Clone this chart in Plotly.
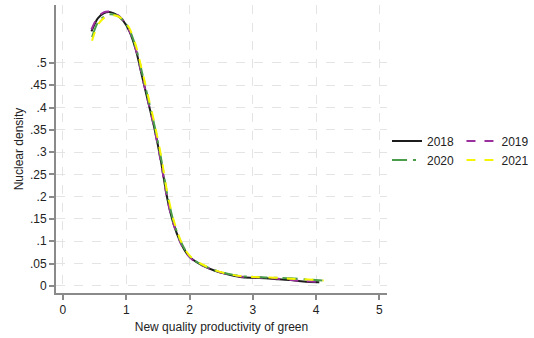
import plotly.graph_objects as go

# ---- data ----
x_2018 = [0.45, 0.55, 0.65, 0.75, 0.85, 0.95, 1.05, 1.15, 1.25, 1.35, 1.45, 1.55, 1.65, 1.75, 1.85, 1.95, 2.05, 2.2, 2.4, 2.6, 2.8, 3.0, 3.2, 3.4, 3.6, 3.8, 4.05]
y_2018 = [0.571, 0.600, 0.612, 0.614, 0.608, 0.595, 0.571, 0.530, 0.470, 0.410, 0.350, 0.278, 0.195, 0.138, 0.100, 0.074, 0.059, 0.046, 0.034, 0.026, 0.020, 0.018, 0.017, 0.015, 0.013, 0.010, 0.008]

x_2019 = [0.45, 0.55, 0.65, 0.75, 0.85, 0.95, 1.05, 1.15, 1.25, 1.35, 1.45, 1.55, 1.65, 1.75, 1.85, 1.95, 2.05, 2.2, 2.4, 2.6, 2.8, 3.0, 3.2, 3.4, 3.6, 3.8, 4.05]
y_2019 = [0.575, 0.603, 0.614, 0.615, 0.609, 0.596, 0.572, 0.531, 0.471, 0.411, 0.349, 0.276, 0.193, 0.137, 0.099, 0.073, 0.058, 0.046, 0.034, 0.026, 0.021, 0.019, 0.018, 0.016, 0.013, 0.011, 0.009]

x_2020 = [0.46, 0.55, 0.65, 0.75, 0.85, 0.95, 1.05, 1.15, 1.25, 1.35, 1.45, 1.55, 1.65, 1.75, 1.85, 1.95, 2.05, 2.2, 2.4, 2.6, 2.8, 3.0, 3.2, 3.4, 3.6, 3.8, 4.1]
y_2020 = [0.558, 0.590, 0.604, 0.609, 0.606, 0.596, 0.575, 0.536, 0.478, 0.418, 0.357, 0.286, 0.203, 0.143, 0.103, 0.076, 0.060, 0.047, 0.035, 0.027, 0.022, 0.020, 0.019, 0.018, 0.017, 0.015, 0.012]

x_2021 = [0.46, 0.55, 0.65, 0.75, 0.85, 0.95, 1.05, 1.15, 1.25, 1.35, 1.45, 1.55, 1.65, 1.75, 1.85, 1.95, 2.05, 2.2, 2.4, 2.6, 2.8, 3.0, 3.2, 3.4, 3.6, 3.8, 4.12]
y_2021 = [0.550, 0.585, 0.601, 0.607, 0.606, 0.597, 0.578, 0.540, 0.483, 0.423, 0.362, 0.292, 0.208, 0.147, 0.105, 0.077, 0.061, 0.048, 0.035, 0.027, 0.022, 0.020, 0.019, 0.018, 0.016, 0.015, 0.012]

x_ticks = [0, 1, 2, 3, 4, 5]
y_ticks = [0, 0.05, 0.1, 0.15, 0.2, 0.25, 0.3, 0.35, 0.4, 0.45, 0.5]
y_tick_labels = ["0", ".05", ".1", ".15", ".2", ".25", ".3", ".35", ".4", ".45", ".5"]

FONT = "Liberation Sans, Arial, sans-serif"

fig = go.Figure()
series = [
    ("2018", x_2018, y_2018, "#1c1c1c", "solid", "legend"),
    ("2019", x_2019, y_2019, "#9b2f9e", "dash", "legend2"),
    ("2020", x_2020, y_2020, "#4a9e4a", "longdashdot", "legend"),
    ("2021", x_2021, y_2021, "#f5f500", "dash", "legend2"),
]
for name, xs, ys, col, dash, lg in series:
    fig.add_trace(go.Scatter(
        x=xs, y=ys, mode="lines", name=name,
        line=dict(color=col, width=2, dash=dash, shape="spline", smoothing=0.8),
        legend=lg,
    ))

fig.update_layout(
    width=534, height=338,
    margin=dict(l=56, r=147, t=5, b=45, autoexpand=False),
    paper_bgcolor="white", plot_bgcolor="white",
    font=dict(family=FONT, size=12, color="#222"),
    legend=dict(x=1.0, xanchor="left", y=0.495, yanchor="middle",
                font=dict(size=12, color="#222"), tracegroupgap=0, itemwidth=30,
                bgcolor="rgba(0,0,0,0)"),
    legend2=dict(x=1.225, xanchor="left", y=0.495, yanchor="middle",
                 font=dict(size=12, color="#222"), tracegroupgap=0, itemwidth=30,
                 bgcolor="rgba(0,0,0,0)"),
)
fig.update_xaxes(
    range=[-0.11, 5.12], tickvals=x_ticks, ticktext=[str(v) for v in x_ticks],
    showline=True, linecolor="#8a8a8a", linewidth=2,
    ticks="outside", ticklen=5, tickcolor="#8a8a8a", tickwidth=1.5,
    showgrid=True, gridcolor="#e4e4e4", griddash="dash", gridwidth=1,
    zeroline=False, automargin=False,
    title=dict(text="New quality productivity of green", font=dict(size=12), standoff=6),
)
fig.update_yaxes(
    range=[-0.016, 0.63], tickvals=y_ticks, ticktext=y_tick_labels,
    showline=True, linecolor="#8a8a8a", linewidth=2,
    ticks="outside", ticklen=5, tickcolor="#8a8a8a", tickwidth=1.5,
    showgrid=True, gridcolor="#e4e4e4", griddash="dash", gridwidth=1,
    zeroline=False, tickangle=0, automargin=False,
    title=dict(text="Nuclear density", font=dict(size=12), standoff=4),
)

fig.write_html("out.html", config={"displayModeBar": False},
               post_script="document.body.style.margin='0';")
